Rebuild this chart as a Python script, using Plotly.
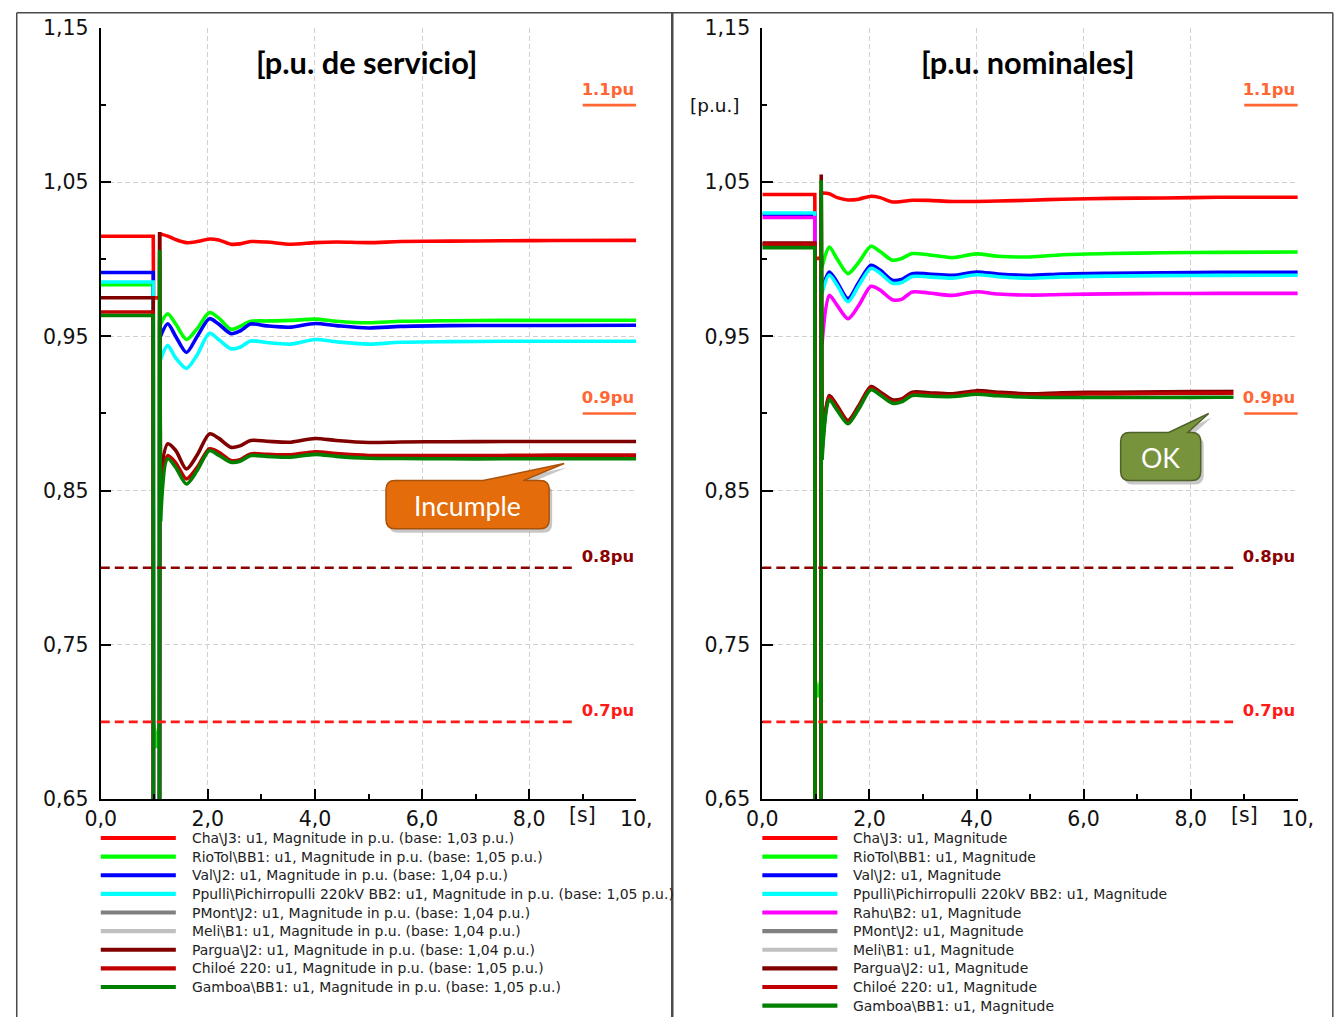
import plotly.graph_objects as go

# Canvas size and the mapping from the 1338 x 1017 design grid (pixels, y down)
# onto the canvas.
W, H = 1352, 1030
GRID_SCALE = 0.9755
GRID_OX, GRID_OY = 15.3, 12.0
K = 1 / GRID_SCALE  # size factor for fonts / pixel lengths

# ---------------------------------------------------------------------------
# Simulation results: bus voltage magnitude after a fault at t ~ 1 s
# ---------------------------------------------------------------------------
t = [0.0, 0.98, 0.985, 1.04, 1.095, 1.10, 1.115, 1.25, 1.4, 1.6, 1.8, 2.03, 2.2,
     2.43, 2.6, 2.8, 3.1, 3.55, 4.0, 4.4, 5.0, 5.6, 6.5, 7.5, 8.5, 10.0]

# service-voltage base [p.u. de servicio]
cha_srv = [1.0149, 1.0149, 0.975, 0.975, 0.975, 1.0165, 1.0165, 1.0150, 1.0128, 1.0108, 1.0115, 1.0132, 1.0125,
           1.0098, 1.0100, 1.0115, 1.0112, 1.0098, 1.0108, 1.0112, 1.0108, 1.0115, 1.0118, 1.0120, 1.0122, 1.0123]
riotol_srv = [0.9836, 0.9836, 0.700, 0.683, 0.700, 0.970, 0.958, 0.9647, 0.958, 0.948, 0.955, 0.9655, 0.962,
              0.9546, 0.9565, 0.9598, 0.9600, 0.9604, 0.9612, 0.9598, 0.9588, 0.9598, 0.9602, 0.9604, 0.9604, 0.9605]
val_srv = [0.9914, 0.9914, 0.45, 0.45, 0.45, 0.960, 0.950, 0.9582, 0.950, 0.9396, 0.950, 0.9615, 0.958,
           0.9518, 0.9535, 0.9580, 0.9568, 0.9560, 0.9584, 0.9570, 0.9555, 0.9565, 0.9570, 0.9571, 0.9571, 0.9572]
ppulli_srv = [0.9853, 0.9853, 0.45, 0.45, 0.45, 0.945, 0.935, 0.944, 0.936, 0.9292, 0.938, 0.952, 0.948,
              0.942, 0.943, 0.947, 0.946, 0.945, 0.948, 0.9465, 0.945, 0.9462, 0.9466, 0.9468, 0.9468, 0.9468]
pmont_srv = []
meli_srv = []
pargua_srv = [0.9751, 0.9751, 0.40, 0.40, 0.40, 1.0177, 0.860, 0.8803, 0.876, 0.864, 0.873, 0.8868, 0.884,
              0.8781, 0.879, 0.8825, 0.8820, 0.8814, 0.8838, 0.8825, 0.8812, 0.8815, 0.8817, 0.8818, 0.8818, 0.8818]
chiloe_srv = [0.9658, 0.9658, 0.40, 0.40, 0.40, 1.000, 0.850, 0.8727, 0.868, 0.8576, 0.865, 0.8771, 0.875,
              0.8695, 0.870, 0.8738, 0.8735, 0.8732, 0.8752, 0.8740, 0.8728, 0.8728, 0.8727, 0.8728, 0.8730, 0.8730]
gamboa_srv = [0.9636, 0.9636, 0.40, 0.40, 0.40, 1.006, 0.830, 0.8706, 0.865, 0.8543, 0.863, 0.8760, 0.873,
              0.8684, 0.869, 0.8727, 0.8722, 0.8716, 0.8735, 0.8722, 0.8710, 0.8708, 0.8706, 0.8706, 0.8706, 0.8706]

# nominal-voltage base [p.u. nominales]
cha_nom = [1.042, 1.042, 1.0006, 1.0006, 1.0006, 1.044, 1.043, 1.0425, 1.040, 1.0385, 1.039, 1.0409, 1.040,
           1.0372, 1.0375, 1.0383, 1.0382, 1.0375, 1.0375, 1.0378, 1.0383, 1.0390, 1.0395, 1.0398, 1.0402, 1.0403]
riotol_nom = [1.0095, 1.0095, 0.728, 0.716, 0.728, 1.000, 0.995, 1.008, 1.000, 0.9907, 0.998, 1.0084, 1.005,
              0.9994, 1.0005, 1.0037, 1.0030, 1.0011, 1.0035, 1.0020, 1.0015, 1.0030, 1.0038, 1.0042, 1.0045, 1.0047]
val_nom = [1.0292, 1.0292, 0.45, 0.45, 0.45, 0.990, 0.980, 0.9918, 0.985, 0.9745, 0.985, 0.9961, 0.993,
           0.9864, 0.987, 0.9907, 0.9905, 0.9896, 0.9918, 0.9905, 0.9895, 0.9905, 0.9910, 0.9913, 0.9915, 0.9916]
ppulli_nom = [1.0300, 1.0300, 0.45, 0.45, 0.45, 0.988, 0.978, 0.9898, 0.983, 0.9725, 0.983, 0.9942, 0.991,
              0.9845, 0.985, 0.9888, 0.9886, 0.9878, 0.9900, 0.9887, 0.9877, 0.9886, 0.9891, 0.9894, 0.9896, 0.9897]
rahu_nom = [1.0271, 1.0271, 0.45, 0.45, 0.45, 0.955, 0.945, 0.9766, 0.970, 0.9615, 0.970, 0.9825, 0.980,
            0.9738, 0.974, 0.9788, 0.9782, 0.9766, 0.9790, 0.9775, 0.9768, 0.9772, 0.9776, 0.9778, 0.9779, 0.9779]
pmont_nom = []
meli_nom = []
pargua_nom = [1.0106, 1.0106, 0.40, 0.40, 0.40, 1.055, 0.880, 0.9117, 0.905, 0.8955, 0.905, 0.9175, 0.914,
              0.9089, 0.9095, 0.9138, 0.9135, 0.9128, 0.9148, 0.9138, 0.9128, 0.9135, 0.9138, 0.9140, 0.9143, 0.9145]
chiloe_nom = [1.0098, 1.0098, 0.40, 0.40, 0.40, 1.045, 0.875, 0.9105, 0.904, 0.8945, 0.904, 0.9165, 0.913,
              0.9078, 0.9085, 0.9127, 0.9124, 0.9117, 0.9137, 0.9127, 0.9117, 0.9124, 0.9127, 0.9130, 0.9132, 0.9134]
gamboa_nom = [1.0076, 1.0076, 0.40, 0.40, 0.40, 1.0513, 0.870, 0.9089, 0.902, 0.8933, 0.903, 0.9154, 0.912,
              0.9067, 0.9075, 0.9117, 0.9113, 0.9110, 0.9125, 0.9115, 0.9105, 0.9104, 0.9104, 0.9104, 0.9105, 0.9106]

left_names = [
    "Cha\\J3: u1, Magnitude in p.u. (base: 1,03 p.u.)",
    "RioTol\\BB1: u1, Magnitude in p.u. (base: 1,05 p.u.)",
    "Val\\J2: u1, Magnitude in p.u. (base: 1,04 p.u.)",
    "Ppulli\\Pichirropulli 220kV BB2: u1, Magnitude in p.u. (base: 1,05 p.u.)",
    "PMont\\J2: u1, Magnitude in p.u. (base: 1,04 p.u.)",
    "Meli\\B1: u1, Magnitude in p.u. (base: 1,04 p.u.)",
    "Pargua\\J2: u1, Magnitude in p.u. (base: 1,04 p.u.)",
    "Chiloé 220: u1, Magnitude in p.u. (base: 1,05 p.u.)",
    "Gamboa\\BB1: u1, Magnitude in p.u. (base: 1,05 p.u.)",
]
left_colors = ["#FF0000", "#00FF00", "#0000FF", "#00FFFF", "#808080", "#C0C0C0", "#800000", "#C00000", "#008000"]
left_values = [cha_srv, riotol_srv, val_srv, ppulli_srv, pmont_srv, meli_srv, pargua_srv, chiloe_srv, gamboa_srv]

right_names = [
    "Cha\\J3: u1, Magnitude",
    "RioTol\\BB1: u1, Magnitude",
    "Val\\J2: u1, Magnitude",
    "Ppulli\\Pichirropulli 220kV BB2: u1, Magnitude",
    "Rahu\\B2: u1, Magnitude",
    "PMont\\J2: u1, Magnitude",
    "Meli\\B1: u1, Magnitude",
    "Pargua\\J2: u1, Magnitude",
    "Chiloé 220: u1, Magnitude",
    "Gamboa\\BB1: u1, Magnitude",
]
right_colors = ["#FF0000", "#00FF00", "#0000FF", "#00FFFF", "#FF00FF", "#808080", "#C0C0C0", "#800000", "#C00000", "#008000"]
right_values = [cha_nom, riotol_nom, val_nom, ppulli_nom, rahu_nom, pmont_nom, meli_nom, pargua_nom, chiloe_nom, gamboa_nom]

# voltage limits
limit_levels = [1.1, 0.9, 0.8, 0.7]
limit_labels = ["1.1pu", "0.9pu", "0.8pu", "0.7pu"]
limit_colors = ["#FF6633", "#FF6633", "#8B0000", "#FF1A1A"]

x_ticks = [0, 2, 4, 6, 8, 10]
x_ticktext = ["0,0", "2,0", "4,0", "6,0", "8,0", "10,"]
y_ticks = [0.65, 0.75, 0.85, 0.95, 1.05, 1.15]
y_ticktext = ["0,65", "0,75", "0,85", "0,95", "1,05", "1,15"]

titles = ["[p.u. de servicio]", "[p.u. nominales]"]
callout_texts = ["Incumple", "OK"]

# ---------------------------------------------------------------------------
fig = go.Figure()


def cx(x):
    """design-grid x -> canvas pixels"""
    return (x - GRID_OX) / GRID_SCALE


def cy(y):
    """design-grid y -> canvas pixels"""
    return (y - GRID_OY) / GRID_SCALE


def px(x):
    return min(max(cx(x), 0.75), W - 0.75) / W


def py(y):
    return 1 - min(max(cy(y), 0.75), H - 0.75) / H


split = t.index(1.115)
LW = 3.5 * K

panels = [
    ("x", "y", left_names, left_colors, left_values),
    ("x2", "y2", right_names, right_colors, right_values),
]
for xr, yr, names, colors, values in panels:
    for name, color, v in zip(names, colors, values):
        if not v:
            continue
        # switching transient (step changes)
        fig.add_trace(go.Scatter(x=t[:split + 1], y=v[:split + 1], mode="lines", name=name,
                                 line=dict(color=color, width=LW), xaxis=xr, yaxis=yr,
                                 showlegend=False, hoverinfo="skip"))
        # electromechanical recovery
        fig.add_trace(go.Scatter(x=t[split:], y=v[split:], mode="lines", name=name,
                                 line=dict(color=color, width=LW, shape="spline", smoothing=0.8),
                                 xaxis=xr, yaxis=yr, showlegend=False, hoverinfo="skip"))

shapes = []
annotations = []

# limit lines and their labels
for xr, yr in (("x", "y"), ("x2", "y2")):
    for lvl, lab, col in zip(limit_levels, limit_labels, limit_colors):
        if lvl > 0.85:
            shapes.append(dict(type="line", xref=xr, yref=yr, x0=9.0, x1=10.0, y0=lvl, y1=lvl,
                               line=dict(color=col, width=2.5 * K)))
            annotations.append(dict(xref=xr, yref=yr, x=9.47, y=lvl, yanchor="bottom", yshift=2 * K,
                                    text="<b>%s</b>" % lab, showarrow=False, bgcolor="white",
                                    width=68 * K, height=24 * K, borderpad=0,
                                    font=dict(family="DejaVu Sans", size=16 * K, color=col)))
        else:
            shapes.append(dict(type="line", xref=xr, yref=yr, x0=0.0, x1=8.82, y0=lvl, y1=lvl,
                               line=dict(color=col, width=2.5 * K, dash="9px,5px")))
            annotations.append(dict(xref=xr, yref=yr, x=9.47, y=lvl, yanchor="bottom", yshift=-3 * K,
                                    text="<b>%s</b>" % lab, showarrow=False, bgcolor="white",
                                    width=68 * K, height=26 * K, borderpad=0,
                                    font=dict(family="DejaVu Sans", size=16 * K, color=col)))

# panel frames
frame = dict(color="#4a4a4a", width=1.5)
shapes += [
    dict(type="line", xref="paper", yref="paper", x0=px(11), x1=px(1331), y0=py(8), y1=py(8), line=frame),
    dict(type="line", xref="paper", yref="paper", x0=px(11), x1=px(11), y0=py(8), y1=0, line=frame),
    dict(type="line", xref="paper", yref="paper", x0=px(671), x1=px(671), y0=py(8), y1=0,
         line=dict(color="#4a4a4a", width=2.5)),
    dict(type="line", xref="paper", yref="paper", x0=px(1331), x1=px(1331), y0=py(8), y1=0, line=frame),
]


def bubble(x0, y0, x1, y1, r, b0, b1, tip, dx=0, dy=0):
    def P(x, y):
        return "%.5f,%.5f" % (px(x + dx), py(y + dy))
    s = "M" + P(x0 + r, y0)
    s += " L" + P(b0, y0) + " L" + P(*tip) + " L" + P(b1, y0)
    s += " L" + P(x1 - r, y0) + " Q" + P(x1, y0) + " " + P(x1, y0 + r)
    s += " L" + P(x1, y1 - r) + " Q" + P(x1, y1) + " " + P(x1 - r, y1)
    s += " L" + P(x0 + r, y1) + " Q" + P(x0, y1) + " " + P(x0, y1 - r)
    s += " L" + P(x0, y0 + r) + " Q" + P(x0, y0) + " " + P(x0 + r, y0) + " Z"
    return s


callouts = [
    dict(box=(385, 480, 548, 528), base=(482, 522), tip=(563, 463), fill="#E46C0A", edge="#A9520C"),
    dict(box=(1119, 432, 1199, 480), base=(1167, 1186), tip=(1207, 413), fill="#77933C", edge="#4F6228"),
]
for c, txt in zip(callouts, callout_texts):
    x0, y0, x1, y1 = c["box"]
    shapes.append(dict(type="path", xref="paper", yref="paper",
                       path=bubble(x0, y0, x1, y1, 9, c["base"][0], c["base"][1], c["tip"], 3, 4),
                       fillcolor="rgba(0,0,0,0.22)", line=dict(width=0)))
    shapes.append(dict(type="path", xref="paper", yref="paper",
                       path=bubble(x0, y0, x1, y1, 9, c["base"][0], c["base"][1], c["tip"]),
                       fillcolor=c["fill"], line=dict(color=c["edge"], width=1.5)))
    annotations.append(dict(xref="paper", yref="paper", x=px((x0 + x1) / 2), y=py((y0 + y1) / 2 + 1),
                            text=txt, showarrow=False, xanchor="center", yanchor="middle",
                            font=dict(family="Lato", size=26 * K, color="white")))

# hand-built legends under each panel
for (names, colors, lx, tx) in ((left_names, left_colors, 100, 189), (right_names, right_colors, 761, 850)):
    for i, (name, col) in enumerate(zip(names, colors)):
        yy = 837 + i * 18.6
        shapes.append(dict(type="line", xref="paper", yref="paper", x0=px(lx), x1=px(lx + 75),
                           y0=py(yy), y1=py(yy), line=dict(color=col, width=4 * K)))
        annotations.append(dict(xref="paper", yref="paper", x=px(tx), y=py(yy), text=name,
                                showarrow=False, xanchor="left", yanchor="middle",
                                font=dict(family="DejaVu Sans", size=13.6 * K, color="#222")))

# titles and unit labels
for tcx, title in zip((366, 1026), titles):
    annotations.append(dict(xref="paper", yref="paper", x=px(tcx), y=py(62), text="<b>%s</b>" % title,
                            showarrow=False, xanchor="center", yanchor="middle",
                            font=dict(family="Lato", size=30 * K, color="black")))
annotations.append(dict(xref="paper", yref="paper", x=px(714), y=py(105), text="[p.u.]", showarrow=False,
                        xanchor="center", yanchor="middle",
                        font=dict(family="DejaVu Sans", size=18 * K, color="#111")))
for xr in ("x", "x2"):
    annotations.append(dict(xref=xr, yref="paper", x=9, y=py(814), text="[s]", showarrow=False,
                            xanchor="center", yanchor="middle",
                            font=dict(family="DejaVu Sans", size=20 * K, color="#111")))

axis_common = dict(showline=True, linecolor="black", linewidth=2 * K, ticks="inside", ticklen=10 * K,
                   tickwidth=1.5, tickcolor="black", showgrid=True, gridcolor="#d0d0d0", gridwidth=1,
                   griddash="5px,3px", zeroline=False, fixedrange=True,
                   tickfont=dict(family="DejaVu Sans", size=20 * K, color="#111"))

xcommon = dict(axis_common, range=[0, 10], tickmode="array", tickvals=x_ticks, ticktext=x_ticktext,
               minor=dict(ticks="inside", ticklen=5 * K, tickwidth=1.5, tickcolor="black",
                          tickmode="array", tickvals=[1, 3, 5, 7, 9], showgrid=False))
ycommon = dict(axis_common, range=[0.65, 1.15], tickmode="array", tickvals=y_ticks, ticktext=y_ticktext,
               ticklabelstandoff=round(6 * K),
               minor=dict(ticks="inside", ticklen=5 * K, tickwidth=1.5, tickcolor="black",
                          tickmode="array", tickvals=[0.7, 0.8, 0.9, 1.0, 1.1], showgrid=False))

ydom = [py(798), py(28)]
fig.update_layout(
    width=W, height=H, margin=dict(l=0, r=0, t=0, b=0),
    paper_bgcolor="white", plot_bgcolor="white", showlegend=False,
    xaxis=dict(xcommon, domain=[px(100), px(635)], anchor="y"),
    yaxis=dict(ycommon, domain=ydom, anchor="x"),
    xaxis2=dict(xcommon, domain=[px(761), px(1296)], anchor="y2"),
    yaxis2=dict(ycommon, domain=ydom, anchor="x2"),
    shapes=shapes, annotations=annotations,
)

fig.write_html("out.html", config={"displayModeBar": False})
